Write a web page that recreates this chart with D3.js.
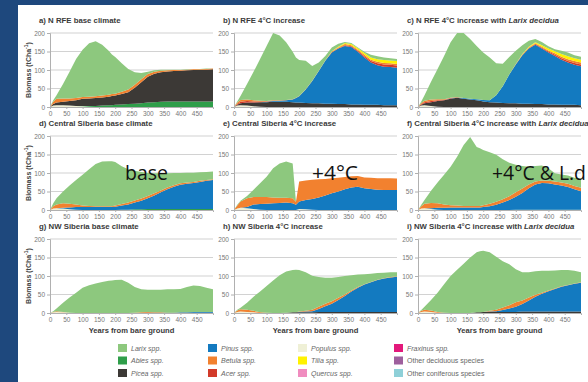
<!DOCTYPE html>
<html><head><meta charset="utf-8">
<script src="https://cdn.jsdelivr.net/npm/d3@7"></script>
<style>
html,body{margin:0;padding:0;background:#fff;}
svg{display:block;}
</style></head><body>
<svg id="chart" width="588" height="382"></svg>
<script>
// Sample years shared by every panel (years from bare ground)
const years = [0,10,20,40,60,80,100,120,140,160,180,190,200,220,240,260,280,300,320,340,360,380,400,420,440,460,480,500];

// Stacking order, bottom to top
const stackOrder = ["Populus","Abies","Picea","Pinus","Acer","Betula","Tilia","Larix"];

const speciesColor = {
  Larix:"#8dc87e", Abies:"#2f9e4a", Picea:"#3c3936", Pinus:"#137ac0",
  Betula:"#f2812f", Acer:"#d23a2a", Populus:"#eff0d6", Tilia:"#fff200",
  Quercus:"#f08cbf", Fraxinus:"#e3197b", OtherDec:"#9e5f9d", OtherCon:"#8fd0d8"
};

// a) N RFE base climate
const aPopulus = [0,4,5,5,4,3,2,1,0,0,0,0,0,0,0,0,0,0,0,0,0,0,0,0,0,0,0,0];
const aAbies   = [0,0,0,0,0,0,1,2,3,4,5,5,6,7,8,9,10,12,13,14,15,15,15,15,15,15,15,15];
const aPicea   = [0,4,7,9,12,15,19,20,21,22,23,25,25,28,32,43,57,70,77,80,81,82,83,84,85,85,86,87];
const aBetula  = [0,6,10,9,7,6,5,5,5,5,5,5,5,6,7,8,8,7,5,4,3,3,2,2,2,2,2,2];
const aLarix   = [0,4,10,39,72,106,128,144,149,137,119,107,99,77,56,34,17,6,4,3,2,1,1,1,0,1,1,0];

// b) N RFE 4°C increase
const bPopulus = [0,4,5,4,2,1,0,0,0,0,0,0,0,0,0,0,0,0,0,0,0,0,0,0,0,0,0,0];
const bPicea   = [0,2,5,8,10,12,13,14,14,14,13,12,12,11,10,10,9,9,8,8,7,7,6,6,6,5,5,5];
const bPinus   = [0,0,0,0,0,0,1,2,3,4,7,12,17,36,60,87,116,138,150,157,155,142,128,114,107,104,103,101];
const bAcer    = [0,2,4,4,3,2,1,1,0,0,0,0,0,0,0,0,0,1,1,2,2,3,3,4,5,6,6,6];
const bBetula  = [0,4,5,4,3,2,1,1,1,1,1,1,1,1,1,1,1,2,2,3,3,3,4,4,4,4,4,4];
const bTilia   = [0,0,0,0,0,0,0,0,0,0,0,0,0,0,0,0,0,1,2,3,3,4,5,6,7,8,8,8];
const bLarix   = [0,3,11,42,77,113,149,182,175,156,128,109,97,77,40,22,12,10,8,3,3,2,3,7,8,7,6,6];

// c) N RFE 4°C increase with Larix decidua
const cPopulus = [0,4,5,3,1,0,0,0,0,0,0,0,0,0,0,0,0,0,0,0,0,0,0,0,0,0,0,0];
const cPicea   = [0,2,5,10,15,18,22,25,22,20,18,17,15,13,12,11,10,10,9,9,8,8,7,7,6,6,6,5];
const cPinus   = [0,0,0,0,0,0,1,1,2,2,3,3,4,5,20,45,78,105,131,149,160,150,140,131,122,114,108,105];
const cAcer    = [0,2,3,3,2,1,1,0,0,0,0,0,0,0,0,0,0,0,0,1,2,2,3,3,4,4,5,5];
const cBetula  = [0,3,4,4,3,2,1,1,0,0,0,0,0,0,0,0,0,1,2,2,2,3,3,4,4,5,5,5];
const cTilia   = [0,0,0,0,0,0,0,0,0,0,0,0,0,0,0,0,0,0,1,2,3,4,5,6,7,8,8,8];
const cLarix   = [0,4,15,48,82,117,150,173,176,162,144,136,128,116,86,61,47,36,24,16,9,9,6,5,9,10,8,8];

// d) Central Siberia base climate
const dPopulus = [0,4,5,4,2,1,0,0,0,0,0,0,0,0,0,0,0,0,0,0,0,0,0,0,0,0,0,0];
const dAbies   = [0,0,0,0,0,0,0,0,0,0,0,0,0,1,1,2,2,3,3,3,3,3,3,3,3,3,3,3];
const dPinus   = [0,0,0,2,5,7,8,8,8,8,8,8,9,11,14,18,23,29,36,45,53,60,65,68,70,73,76,78];
const dBetula  = [0,6,10,12,10,7,4,3,2,2,2,2,3,4,5,6,6,6,6,5,5,4,4,3,3,3,2,2];
const dLarix   = [0,8,17,32,49,66,83,99,114,121,122,122,118,102,90,80,72,62,54,46,38,33,28,27,25,23,22,21];

// e) Central Siberia 4°C increase
const ePopulus = [0,4,6,5,3,1,0,0,0,0,0,0,3,2,1,0,0,0,0,0,0,0,0,0,0,0,0,0];
const ePinus   = [0,0,0,3,12,15,17,18,19,20,18,14,20,25,29,34,39,45,50,56,61,63,59,57,55,54,54,54];
const eBetula  = [0,8,17,24,20,19,18,16,14,13,14,8,54,53,52,49,45,41,37,33,30,29,29,30,31,32,32,31];
const eLarix   = [0,2,2,6,20,37,55,79,93,98,94,0,0,0,0,0,0,0,0,0,0,0,0,0,0,0,0,0];

// f) Central Siberia 4°C increase with Larix decidua
const fPopulus = [0,4,5,3,1,0,0,0,0,0,0,0,0,0,0,0,0,0,0,0,0,0,0,0,0,0,0,0];
const fAbies   = [0,0,0,0,0,0,0,0,0,0,0,0,0,0,0,0,0,1,1,1,1,1,1,1,1,1,1,1];
const fPinus   = [0,0,0,2,5,6,7,7,7,7,7,7,8,10,14,20,27,35,45,58,68,72,71,68,65,61,55,50];
const fBetula  = [0,6,12,14,12,9,6,5,4,4,4,4,5,7,8,9,10,12,12,10,8,7,7,8,8,9,9,9];
const fLarix   = [0,4,10,33,56,80,104,132,165,186,159,156,149,139,127,108,91,74,61,48,42,40,34,22,22,22,22,25];

// g) NW Siberia base climate
const gPopulus = [0,2,3,2,1,0,0,0,0,0,0,0,0,0,0,0,0,0,0,0,0,0,0,0,0,0,0,0];
const gPicea   = [0,0,0,0,0,0,0,0,0,0,0,0,0,0,0,0,0,1,1,1,1,1,1,1,1,1,1,1];
const gPinus   = [0,0,0,0,0,0,0,0,0,0,0,0,0,0,0,0,0,0,0,0,0,0,1,1,2,2,2,2];
const gBetula  = [0,1,2,1,0,0,0,0,0,0,0,0,0,0,0,1,2,2,1,1,0,0,0,0,0,0,0,0];
const gLarix   = [0,2,7,25,41,55,68,75,80,84,87,88,89,90,82,69,62,60,61,61,63,63,63,68,71,70,65,61];

// h) NW Siberia 4°C increase
const hPopulus = [0,3,4,3,2,0,0,0,0,0,0,0,0,0,0,0,0,0,0,0,0,0,0,0,0,0,0,0];
const hPicea   = [0,0,0,0,0,0,0,0,0,1,2,2,2,2,2,3,3,3,3,3,3,3,3,3,3,3,3,3];
const hPinus   = [0,0,0,0,0,0,0,0,0,0,0,0,1,2,3,8,15,22,32,43,55,65,74,80,86,90,93,95];
const hBetula  = [0,4,6,6,4,2,1,0,0,0,0,0,1,2,4,6,7,7,6,4,3,2,1,1,1,1,1,1];
const hLarix   = [0,2,4,19,38,56,72,88,102,111,114,115,112,104,92,80,70,63,56,50,41,34,27,22,18,15,13,11];

// i) NW Siberia 4°C increase with Larix decidua
const iPopulus = [0,3,4,3,1,0,0,0,0,0,0,0,0,0,0,0,0,0,0,0,0,0,0,0,0,0,0,0];
const iPicea   = [0,0,0,0,0,0,0,0,0,0,2,2,3,3,3,3,3,3,4,4,4,4,4,4,4,4,4,4];
const iPinus   = [0,0,0,0,0,0,0,0,0,0,0,0,0,1,2,5,9,14,20,30,40,48,55,61,67,71,75,78];
const iBetula  = [0,3,5,4,2,1,0,0,0,0,0,0,0,2,4,7,9,12,10,8,5,3,2,1,1,1,1,1];
const iLarix   = [0,2,8,28,52,77,100,117,133,150,162,165,165,158,143,125,111,89,76,68,64,59,53,49,44,40,34,27];

const yTicks = [0,50,100,150,200];
const xTicks = [0,50,100,150,200,250,300,350,400,450];

const legendNames = ["Larix spp.","Abies spp.","Picea spp.","Pinus spp.","Betula spp.","Acer spp.",
  "Populus spp.","Tilia spp.","Quercus spp.","Fraxinus spp.","Other deciduous species","Other coniferous species"];
const legendKeys = ["Larix","Abies","Picea","Pinus","Betula","Acer","Populus","Tilia","Quercus","Fraxinus","OtherDec","OtherCon"];

const panels = [
  {title:[["a) N RFE base climate",false]], layers:{Populus:aPopulus,Abies:aAbies,Picea:aPicea,Betula:aBetula,Larix:aLarix}},
  {title:[["b) N RFE 4°C increase",false]], layers:{Populus:bPopulus,Picea:bPicea,Pinus:bPinus,Acer:bAcer,Betula:bBetula,Tilia:bTilia,Larix:bLarix}},
  {title:[["c) N RFE 4°C increase with ",false],["Larix decidua",true]], layers:{Populus:cPopulus,Picea:cPicea,Pinus:cPinus,Acer:cAcer,Betula:cBetula,Tilia:cTilia,Larix:cLarix}},
  {title:[["d) Central Siberia base climate",false]], layers:{Populus:dPopulus,Abies:dAbies,Pinus:dPinus,Betula:dBetula,Larix:dLarix}},
  {title:[["e) Central Siberia 4°C increase",false]], layers:{Populus:ePopulus,Pinus:ePinus,Betula:eBetula,Larix:eLarix}},
  {title:[["f) Central Siberia 4°C increase with ",false],["Larix decidua",true]], layers:{Populus:fPopulus,Abies:fAbies,Pinus:fPinus,Betula:fBetula,Larix:fLarix}},
  {title:[["g) NW Siberia base climate",false]], layers:{Populus:gPopulus,Picea:gPicea,Pinus:gPinus,Betula:gBetula,Larix:gLarix}},
  {title:[["h) NW Siberia 4°C increase",false]], layers:{Populus:hPopulus,Picea:hPicea,Pinus:hPinus,Betula:hBetula,Larix:hLarix}},
  {title:[["i) NW Siberia  4°C increase with ",false],["Larix decidua",true]], layers:{Populus:iPopulus,Picea:iPicea,Pinus:iPinus,Betula:iBetula,Larix:iLarix}}
];

// hand-written notes over the middle row: column, text, left offset, text width
const notes = [
  {col:0, text:"base", dx:75, w:43},
  {col:1, text:"+4°C", dx:78, w:46},
  {col:2, text:"+4°C & L.d", dx:74, w:94}
];

// ---- layout ----
const svg = d3.select("#chart");
const colX = [50, 234, 418];
const rowY0 = [107, 210, 313];
const plotW = 163, plotH = 74;
const font = "'Liberation Sans', Arial, sans-serif";

svg.append("rect").attr("width",588).attr("height",382).attr("fill","#fff");

panels.forEach((p, k) => {
  const col = k % 3, row = Math.floor(k / 3);
  const x = d3.scaleLinear().domain([0,500]).range([colX[col], colX[col] + plotW]);
  const y = d3.scaleLinear().domain([0,200]).range([rowY0[row], rowY0[row] - plotH]);
  const g = svg.append("g");

  // horizontal grid
  g.selectAll(".grid").data(yTicks.slice(1)).join("line")
    .attr("x1", x(0)).attr("x2", x(500))
    .attr("y1", d => y(d)).attr("y2", d => y(d))
    .attr("stroke", "#d2d2d2").attr("stroke-width", 1.2);

  // stacked areas
  const keys = stackOrder.filter(s => p.layers[s]);
  const rows = years.map((yr, i) => {
    const o = {year: yr};
    keys.forEach(s => o[s] = p.layers[s][i]);
    return o;
  });
  const series = d3.stack().keys(keys)(rows);
  const area = d3.area().x(d => x(d.data.year)).y0(d => y(d[0])).y1(d => y(d[1]));
  g.selectAll(".layer").data(series).join("path")
    .attr("d", area).attr("fill", d => speciesColor[d.key]);

  // axes
  const ya = g.append("g").attr("transform", `translate(${x(0)},0)`)
    .call(d3.axisLeft(y).tickValues(yTicks).tickSize(3).tickPadding(2));
  const xa = g.append("g").attr("transform", `translate(0,${y(0)})`)
    .call(d3.axisBottom(x).tickValues(xTicks).tickSize(2).tickPadding(2));
  [ya, xa].forEach(a => {
    a.select(".domain").attr("stroke", "#b0b0b0");
    a.selectAll(".tick line").attr("stroke", "#b0b0b0");
    a.selectAll(".tick text").attr("fill", "#777").attr("font-size", 6.5).attr("font-family", font);
  });

  // panel title
  const t = g.append("text").attr("x", colX[col] - 11).attr("y", rowY0[row] - plotH - 10)
    .attr("font-family", font).attr("font-size", 7.8).attr("font-weight", "bold").attr("fill", "#3a3a3a");
  p.title.forEach(([s, it]) => t.append("tspan").text(s).attr("font-style", it ? "italic" : "normal"));

  if (col === 0) {
    const yl = g.append("text")
      .attr("transform", `translate(31,${rowY0[row] - plotH / 2}) rotate(-90)`)
      .attr("text-anchor", "middle").attr("font-family", font).attr("font-size", 7)
      .attr("font-weight", "bold").attr("fill", "#444");
    yl.append("tspan").text("Biomass (tCha");
    yl.append("tspan").text("-1").attr("font-size", 5).attr("dy", -3);
    yl.append("tspan").text(")").attr("font-size", 7).attr("dy", 3);
  }
  if (row === 2) {
    g.append("text").attr("x", x(250)).attr("y", rowY0[row] + 20)
      .attr("text-anchor", "middle").attr("font-family", font).attr("font-size", 7.6)
      .attr("font-weight", "bold").attr("fill", "#3a3a3a").text("Years from bare ground");
  }
});

// annotations over the middle row
notes.forEach(n => {
  svg.append("text").attr("x", colX[n.col] + n.dx).attr("y", 180)
    .attr("font-family", "'Open Sans', sans-serif").attr("font-size", 20)
    .attr("textLength", n.w).attr("lengthAdjust", "spacingAndGlyphs")
    .attr("fill", "#111").text(n.text);
});

// legend (3 rows, filled column by column)
const legX = [118, 208, 298, 394];
const legY = [348, 360.5, 373];
legendNames.forEach((name, i) => {
  const c = Math.floor(i / 3), r = i % 3;
  svg.append("rect").attr("x", legX[c]).attr("y", legY[r] - 4).attr("width", 9).attr("height", 8)
    .attr("fill", speciesColor[legendKeys[i]]);
  svg.append("text").attr("x", legX[c] + 13).attr("y", legY[r] + 2.5)
    .attr("font-family", font).attr("font-size", 7).attr("fill", "#666")
    .attr("font-style", name.startsWith("Other") ? "normal" : "italic").text(name);
});

// dark frame strips on the left and top edges
svg.append("rect").attr("x", 0).attr("y", 0).attr("width", 18).attr("height", 382).attr("fill", "#1e487d");
svg.append("rect").attr("x", 0).attr("y", 0).attr("width", 588).attr("height", 5).attr("fill", "#1e487d");
</script>
</body></html>
